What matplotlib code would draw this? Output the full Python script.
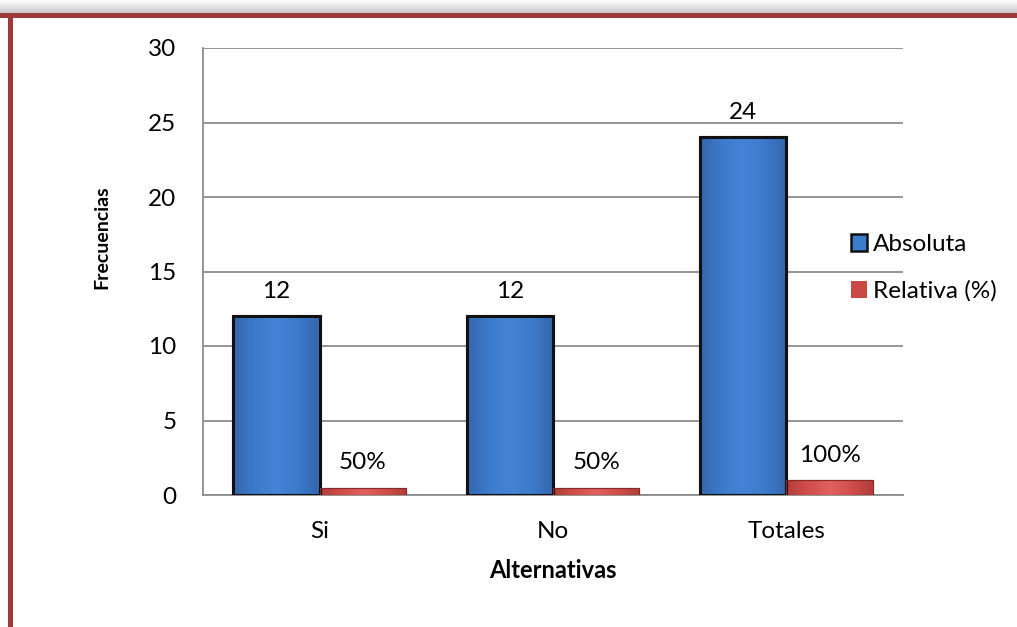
import numpy as np
import matplotlib
matplotlib.use("Agg")
import matplotlib.pyplot as plt
from matplotlib.patches import Rectangle
from matplotlib.colors import LinearSegmentedColormap

categories = ["Si", "No", "Totales"]
absoluta = [12, 12, 24]
relativa = [0.5, 0.5, 1.0]
relativa_labels = ["50%", "50%", "100%"]
yticks = [0, 5, 10, 15, 20, 25, 30]

plt.rcParams["font.family"] = ["Lato", "DejaVu Sans"]
FS = 17.5

fig = plt.figure(figsize=(10.17, 6.27), dpi=100)
fig.patch.set_facecolor("white")

# frame: soft grey shadow above a dark red top rule, red rule on the left
shadow = np.linspace(0.78, 1.0, 40)[:, None] * np.ones((40, 2))
sh_ax = fig.add_axes([0, 1 - 13 / 627, 1, 13 / 627])
sh_ax.imshow(shadow[::-1], cmap="gray", vmin=0, vmax=1, aspect="auto")
sh_ax.axis("off")
fig.patches.append(Rectangle((0, 1 - 17.5 / 627), 1, 4.5 / 627, transform=fig.transFigure,
                             facecolor="#9e3a3a", edgecolor="none", zorder=5))
fig.patches.append(Rectangle((8 / 1017, 0), 4.5 / 1017, 1 - 13 / 627, transform=fig.transFigure,
                             facecolor="#9e3a3a", edgecolor="none", zorder=5))

ax = fig.add_axes([203 / 1017, 1 - 495 / 627, 700 / 1017, (495 - 48) / 627])
x = np.arange(len(categories))
w = 0.37

blue_cmap = LinearSegmentedColormap.from_list("b", ["#3366ad", "#3d7acb", "#4484d6", "#3d7acb", "#3366ad"])
red_cmap = LinearSegmentedColormap.from_list("r", ["#b03c39", "#d24e4a", "#df625e", "#d24e4a", "#b03c39"])

bars_a = ax.bar(x - w / 2, absoluta, w, color="#3c7ccf", edgecolor="#111111", linewidth=2.2,
                label="Absoluta", zorder=3)
bars_r = ax.bar(x + w / 2, relativa, w, color="#d44f4b", edgecolor="#8a2a28", linewidth=0.8,
                label="Relativa (%)", zorder=3)

# horizontal shading inside each bar
grad = np.linspace(0, 1, 256)[None, :]
for bars, cmap in ((bars_a, blue_cmap), (bars_r, red_cmap)):
    for b in bars:
        x0, y0 = b.get_x(), b.get_y()
        im = ax.imshow(grad, cmap=cmap, aspect="auto", zorder=3.5,
                       extent=[x0, x0 + b.get_width(), y0, y0 + b.get_height()])
        im.set_clip_path(b)
        ax.add_patch(Rectangle((x0, y0), b.get_width(), b.get_height(), fill=False,
                               edgecolor=b.get_edgecolor(), linewidth=b.get_linewidth(), zorder=4))

for xi, v in zip(x, absoluta):
    ax.text(xi - w / 2, v + 0.95, str(v), ha="center", va="bottom", fontsize=FS, zorder=6)
for xi, v, lab in zip(x, relativa, relativa_labels):
    ax.text(xi + w / 2, v + 0.95, lab, ha="center", va="bottom", fontsize=FS, zorder=6)

ax.set_xlim(-0.5, 2.5)
ax.set_ylim(0, 30)
ax.set_yticks(yticks)
ax.set_xticks(x)
ax.set_xticklabels(categories)
ax.tick_params(axis="both", labelsize=FS, length=0)
ax.tick_params(axis="x", pad=19)
ax.tick_params(axis="y", pad=19)
ax.yaxis.grid(True, color="#8c8c8c", linewidth=1.3)
ax.set_axisbelow(True)
for s in ("top", "right"):
    ax.spines[s].set_visible(False)
ax.spines["left"].set_color("#8c8c8c")
ax.spines["left"].set_linewidth(1.3)
ax.spines["bottom"].set_color("#8c8c8c")
ax.spines["bottom"].set_linewidth(1.3)

ax.set_xlabel("Alternativas", fontsize=17, fontweight="bold", labelpad=12)
fig.text(102 / 1017, 1 - 237 / 627, "Frecuencias", rotation=90, fontsize=14,
         fontweight="bold", ha="center", va="center")

handles = [Rectangle((0, 0), 1, 1, facecolor="#3c7ccf", edgecolor="#111111", linewidth=1.8),
           Rectangle((0, 0), 1, 1, facecolor="#c94845", edgecolor="none")]
fig.legend(handles, ["Absoluta", "Relativa (%)"], loc="center left",
           bbox_to_anchor=(851 / 1017, 1 - 268 / 627), frameon=False, fontsize=FS,
           handlelength=0.65, handleheight=0.65, handletextpad=0.25, labelspacing=1.05,
           borderpad=0, borderaxespad=0)

fig.savefig("out.png", dpi=100, facecolor="white")
